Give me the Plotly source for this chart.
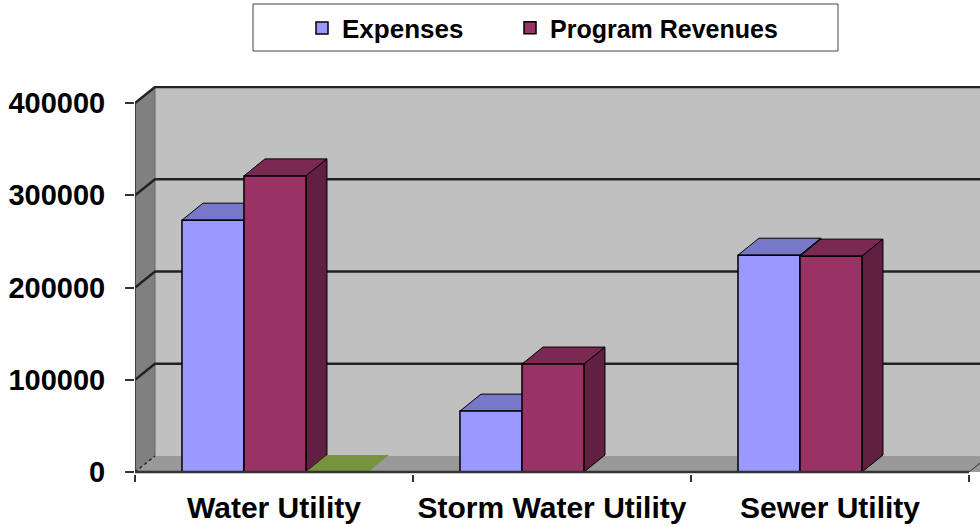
import plotly.graph_objects as go

# ---- data ----
categories = ["Water Utility", "Storm Water Utility", "Sewer Utility"]
expenses = [273000, 66000, 235000]
program_revenues = [321000, 117000, 234000]
series3 = [0, None, None]          # flat green bar (zero height) seen beside Water Utility
y_ticks = [0, 100000, 200000, 300000, 400000]

# ---- geometry (layout) ----
W = 0.223                     # bar width in category units
OFFS = [-0.331, -0.108, 0.115]
PX_X = 278.0                  # px per category
PX_Y = 369.0 / 400000         # px per value unit
DXb, DYb = 21 / PX_X, 17 / PX_Y   # bar depth
DXw, DYw = 20 / PX_X, 16 / PX_Y   # wall depth
XMIN = -0.5
XMAX = XMIN + 845 / PX_X
YMIN = -2 / PX_Y
YMAX = YMIN + 388 / PX_Y

ML, MT = 135, 86
PW, PH = 845, 388

def px2paper(px, py):
    return (px - ML) / PW, (MT + PH - py) / PH

FONT = "Liberation Sans, Arial, sans-serif"

fig = go.Figure()

series = [
    ("Expenses", expenses, "#9999FF", "#7878C8", "#5A5AA0", "legend"),
    ("Program Revenues", program_revenues, "#993366", "#7A2952", "#611F42", "legend2"),
    ("Series 3", series3, "#8DAA4E", "#77933C", "#5E7530", None),
]

for i, (name, vals, cf, ct, cs, leg) in enumerate(series):
    kw = dict(legend=leg) if leg else dict(showlegend=False)
    fig.add_trace(go.Bar(
        x=[0, 1, 2], y=vals, name=name, width=W, offset=OFFS[i],
        marker=dict(color=cf, line=dict(color="#000000", width=1.5)),
        **kw,
    ))

shapes = []
# back wall
shapes.append(dict(type="rect", xref="x", yref="y", layer="below",
                   x0=XMIN + DXw, x1=XMAX + 1, y0=DYw, y1=400000 + DYw,
                   fillcolor="#C0C0C0", line=dict(width=0)))
# left wall
shapes.append(dict(type="path", xref="x", yref="y", layer="below",
                   path=f"M{XMIN},0 L{XMIN},400000 L{XMIN+DXw},{400000+DYw} L{XMIN+DXw},{DYw} Z",
                   fillcolor="#808080", line=dict(color="#666666", width=1)))
# floor
shapes.append(dict(type="path", xref="x", yref="y", layer="below",
                   path=f"M{XMIN},0 L{XMAX+1},0 L{XMAX+1},{DYw} L{XMIN+DXw},{DYw} Z",
                   fillcolor="#999999", line=dict(width=0)))
shapes.append(dict(type="path", xref="x", yref="y", layer="below",
                   path=f"M{2.5},0 L{2.5+DXw},{DYw}",
                   line=dict(color="#333333", width=1)))
# gridlines
for v in y_ticks:
    if v == 0:
        shapes.append(dict(type="line", xref="x", yref="y", layer="below",
                           x0=XMIN, y0=0, x1=XMIN + DXw, y1=DYw,
                           line=dict(color="#222222", width=1.5, dash="dot")))
        continue
    shapes.append(dict(type="path", xref="x", yref="y", layer="below",
                       path=f"M{XMIN},{v} L{XMIN+DXw},{v+DYw} L{XMAX+1},{v+DYw}",
                       line=dict(color="#222222", width=2.5)))
# bar side & top faces
for j in range(len(categories)):
    for i, (name, vals, cf, ct, cs, leg) in enumerate(series):
        v = vals[j]
        if v is None:
            continue
        x0 = j + OFFS[i]
        x1 = x0 + W
        lw = 1 if v > 0 else 0
        shapes.append(dict(type="path", xref="x", yref="y", layer="below",
                           path=f"M{x0},{v} L{x1},{v} L{x1+DXb},{v+DYb} L{x0+DXb},{v+DYb} Z",
                           fillcolor=ct, line=dict(color="#000000", width=lw)))
        if v > 0:
            shapes.append(dict(type="path", xref="x", yref="y", layer="below",
                               path=f"M{x1},0 L{x1},{v} L{x1+DXb},{v+DYb} L{x1+DXb},{DYb} Z",
                               fillcolor=cs, line=dict(color="#000000", width=1)))
# front axis lines
shapes.append(dict(type="line", xref="x", yref="y", layer="above",
                   x0=XMIN, y0=0, x1=XMIN, y1=400000,
                   line=dict(color="#333333", width=1.5)))
shapes.append(dict(type="line", xref="x", yref="y", layer="above",
                   x0=XMIN, y0=0, x1=2.5, y1=0,
                   line=dict(color="#333333", width=2.5)))
# legend box
lx0, ly0 = px2paper(253, 51)
lx1, ly1 = px2paper(838, 4)
shapes.append(dict(type="rect", xref="paper", yref="paper", layer="above",
                   x0=lx0, x1=lx1, y0=ly0, y1=ly1,
                   fillcolor="rgba(0,0,0,0)", line=dict(color="#444444", width=1)))

l1x, lgy = px2paper(302, 28)
l2x, _ = px2paper(510, 28)
legfont = dict(family=FONT, size=26, weight="bold")

fig.update_layout(
    width=980, height=527,
    margin=dict(l=ML, r=980 - ML - PW, t=MT, b=527 - MT - PH, pad=0),
    paper_bgcolor="white", plot_bgcolor="white",
    barmode="overlay",
    shapes=shapes,
    font=dict(family=FONT, color="#000000"),
    legend=dict(orientation="h", x=l1x, y=lgy, xanchor="left", yanchor="middle",
                font=legfont, bgcolor="rgba(0,0,0,0)", borderwidth=0, itemclick=False),
    legend2=dict(orientation="h", x=l2x, y=lgy, xanchor="left", yanchor="middle",
                 font=dict(family=FONT, size=25, weight="bold"),
                 bgcolor="rgba(0,0,0,0)", borderwidth=0, itemclick=False),
    xaxis=dict(range=[XMIN, XMAX], tickvals=[0, 1, 2], ticktext=categories,
               ticks="", showgrid=False, zeroline=False, showline=False,
               tickfont=dict(family=FONT, size=30, weight="bold"),
               ticklabelstandoff=13,
               minor=dict(tickvals=[-0.5, 0.5, 1.5, 2.5], ticks="outside",
                          ticklen=7, tickcolor="#333333", tickwidth=1.5, showgrid=False)),
    yaxis=dict(range=[YMIN, YMAX], tickvals=y_ticks, ticktext=[str(t) for t in y_ticks],
               ticks="outside", ticklen=9, tickcolor="#333333", tickwidth=1.5,
               ticklabelstandoff=14,
               showgrid=False, zeroline=False, showline=False,
               tickfont=dict(family=FONT, size=29, weight="bold")),
)

fig.write_html("out.html", config={"displayModeBar": False},
               post_script="document.body.style.margin='0px';")
